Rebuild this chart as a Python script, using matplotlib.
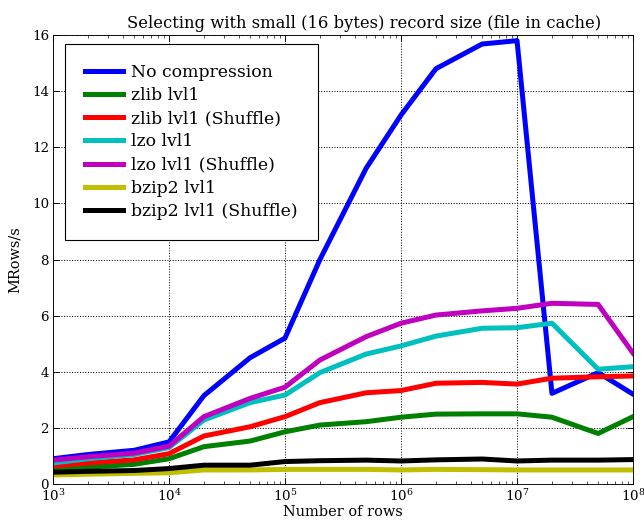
import numpy as np
import matplotlib
matplotlib.use('Agg')
from matplotlib import pyplot as plt

# number of rows (x) and MRows/s per compressor (y)
nrows = [1e3, 2e3, 5e3, 1e4, 2e4, 5e4, 1e5, 2e5, 5e5, 1e6, 2e6, 5e6, 1e7, 2e7, 5e7, 1e8]

no_compression = [0.9, 1.05, 1.2, 1.5, 3.15, 4.5, 5.2, 8.0, 11.25, 13.15, 14.8, 15.68, 15.8, 3.23, 3.97, 3.2]
zlib = [0.52, 0.6, 0.7, 0.9, 1.33, 1.53, 1.86, 2.1, 2.22, 2.38, 2.49, 2.5, 2.5, 2.38, 1.8, 2.4]
zlib_shuffle = [0.64, 0.75, 0.86, 1.08, 1.71, 2.04, 2.4, 2.9, 3.25, 3.33, 3.59, 3.62, 3.56, 3.77, 3.82, 3.85]
lzo = [0.75, 0.9, 1.05, 1.3, 2.28, 2.9, 3.17, 3.97, 4.63, 4.92, 5.27, 5.55, 5.57, 5.73, 4.09, 4.18]
lzo_shuffle = [0.85, 0.97, 1.1, 1.35, 2.4, 3.05, 3.45, 4.42, 5.25, 5.73, 6.02, 6.17, 6.26, 6.44, 6.4, 4.66]
bzip2 = [0.32, 0.35, 0.38, 0.4, 0.5, 0.5, 0.52, 0.52, 0.52, 0.5, 0.52, 0.51, 0.5, 0.5, 0.5, 0.5]
bzip2_shuffle = [0.42, 0.45, 0.48, 0.55, 0.67, 0.67, 0.8, 0.83, 0.85, 0.82, 0.86, 0.89, 0.82, 0.85, 0.85, 0.87]

series = [
    ('No compression', no_compression, 'b'),
    ('zlib lvl1', zlib, 'g'),
    ('zlib lvl1 (Shuffle)', zlib_shuffle, 'r'),
    ('lzo lvl1', lzo, 'c'),
    ('lzo lvl1 (Shuffle)', lzo_shuffle, 'm'),
    ('bzip2 lvl1', bzip2, 'y'),
    ('bzip2 lvl1 (Shuffle)', bzip2_shuffle, 'k'),
]

plt.rcParams['font.family'] = ['DejaVu Serif']
plt.rcParams['mathtext.fontset'] = 'dejavuserif'

fig = plt.figure(figsize=(644 / 80, 523 / 80), dpi=80)
ax = fig.add_axes([0.0823, 0.0746, 0.9007, 0.8584])

for label, values, color in series:
    ax.plot(nrows, values, color=color, linewidth=4.5, label=label)

ax.set_xscale('log')
ax.set_xlim(1e3, 1e8)
ax.set_ylim(0, 16)
ax.set_yticks(range(0, 17, 2))
ax.tick_params(direction='in', which='both', top=True, right=True, labelsize=12)
ax.tick_params(which='major', length=5)
ax.tick_params(which='minor', length=3)
ax.grid(True, which='major', linestyle=':', color='k', linewidth=0.9)

# title sits a bit right of the axes centre in the original
ax.set_title('Selecting with small (16 bytes) record size (file in cache)',
             fontsize=14.7, pad=6, x=0.537)
ax.set_xlabel('Number of rows', fontsize=13, labelpad=1)
ax.set_ylabel('MRows/s', fontsize=13, labelpad=9)

leg = ax.legend(loc='upper left', fontsize=15.5, fancybox=False, borderpad=1.15,
                labelspacing=0.36, handlelength=2.2, handletextpad=0.5,
                borderaxespad=0, bbox_to_anchor=(0.0207, 0.98))
leg.get_frame().set_edgecolor('k')
leg.get_frame().set_linewidth(1.0)
leg.get_frame().set_alpha(1.0)

fig.savefig('out.png', dpi=80)
